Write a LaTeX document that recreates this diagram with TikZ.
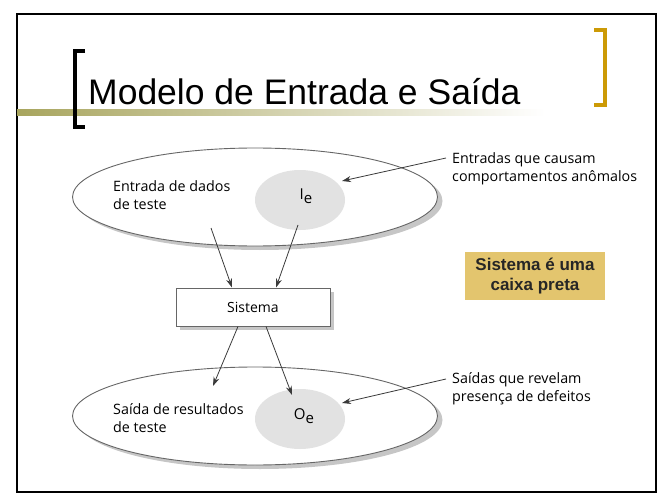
\documentclass[tikz,border=0pt]{standalone}
\usepackage{fontspec}
\setmainfont{Liberation Sans}
\newfontfamily\diagfont{Open Sans}
\usepackage{xcolor}
\usepackage{tikz}
\usetikzlibrary{positioning,shapes.geometric,arrows.meta}
\definecolor{ink}{HTML}{3A3A3A}
\definecolor{olivebar}{HTML}{A8A55E}
\definecolor{goldbar}{HTML}{CC9A06}
\definecolor{goldbox}{HTML}{E3C56E}
\definecolor{innergray}{HTML}{E2E2E2}

\begin{document}
\begin{tikzpicture}[x=1pt,y=-1pt,
  oval/.style={draw=gray!80!black, fill=white, ellipse, line width=0.9pt, inner sep=0pt,
               minimum width=365pt, minimum height=98pt},
  inner/.style={fill=innergray, ellipse, inner sep=0pt, minimum width=90pt, minimum height=60pt},
  txt/.style={font=\diagfont\fontsize{14.3}{18.5}\selectfont, text=black, align=left, inner sep=0pt},
  sub/.style={font=\diagfont\fontsize{15}{16}\selectfont, text=black},
  seta/.style={draw=ink, line width=0.8pt, -{Stealth[length=9pt,width=6pt]}}]
\useasboundingbox (0,0) rectangle (664,500);
% moldura e titulo
\draw[line width=2pt] (17,14) rectangle (656,492);
\shade[left color=olivebar, right color=white] (17,110) rectangle (545,116);
\draw[line width=4.5pt] (85,51) -- (75,51) -- (75,127) -- (85,127);
\draw[goldbar, line width=4pt] (594,30) -- (605,30) -- (605,105) -- (594,105);
\node[anchor=base west, inner sep=0pt, font=\fontsize{35.5}{40}\selectfont] (titulo) at (88,105) {Modelo de Entrada e Saída};

% entrada
\fill[gray!45] (260,201) ellipse [x radius=182.5, y radius=49];
\node[oval] (entrada) at (255,197) {};
\node[inner] (ie) at (300,200) {};
\node[sub] at (306,196) {I\raisebox{-4pt}{e}};
\node[txt, anchor=north west] (txtentrada) at (113,180) {Entrada de dados\\de teste};

% sistema
\fill[gray!45] (180,292) rectangle (334,330);
\node[draw=gray!80!black, fill=white, line width=0.9pt, minimum width=154pt, minimum height=38pt,
      font=\diagfont\fontsize{14}{16}\selectfont] (sistema) at (253,307) {Sistema};

% saida
\fill[gray!45] (260,420) ellipse [x radius=182.5, y radius=49];
\node[oval] (saida) at (255,416) {};
\node[inner] (oe) at (300,419) {};
\node[sub] at (304,416) {O\raisebox{-4pt}{e}};
\node[txt, anchor=north west] (txtsaida) at (113,403) {Saída de resultados\\de teste};

% setas
\coordinate (a1) at (211,228);
\coordinate (a2) at (298,225);
\draw[seta] (a1) -- (sistema.north -| 232,0);
\draw[seta] (a2) -- (sistema.north -| 276,0);
\coordinate (b1) at (213,386);
\coordinate (b2) at (292,395);
\draw[seta] (sistema.south -| 238,0) -- (b1);
\draw[seta] (sistema.south -| 266,0) -- (b2);

% notas
\node[txt, anchor=north west] (notaentrada) at (452,152) {Entradas que causam\\comportamentos anômalos};
\node[txt, anchor=north west] (notasaida) at (452,372) {Saídas que revelam\\presença de defeitos};
\draw[seta] (notaentrada.north west) ++(-6,6) -- (342,181);
\draw[seta] (notasaida.north west) ++(-6,7) -- (342,403);

% caixa preta
\node[fill=goldbox, minimum width=140pt, minimum height=48pt, align=center,
      font=\bfseries\fontsize{17}{19.5}\selectfont, text=black!85] (caixa) at (535,276) {Sistema é uma\\caixa preta};
\end{tikzpicture}
\end{document}
